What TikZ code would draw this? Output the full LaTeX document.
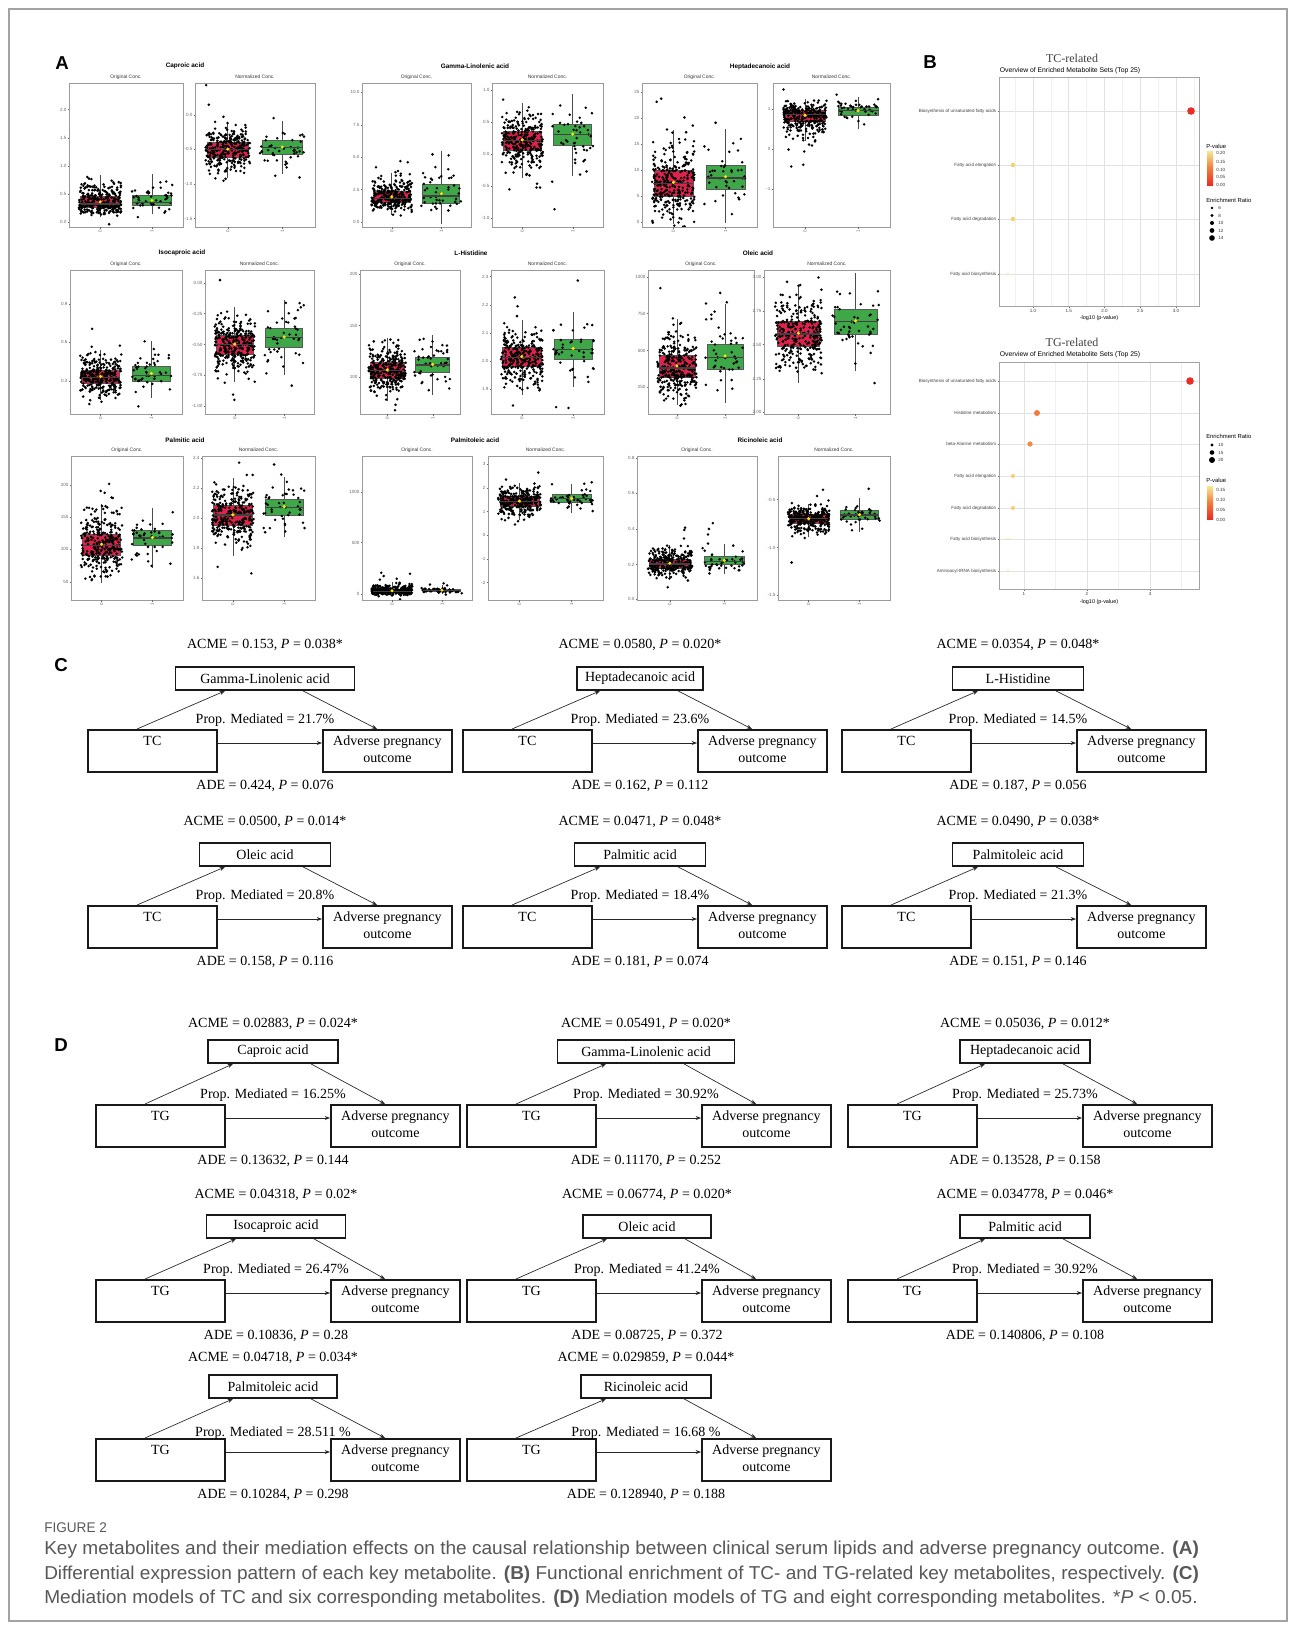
\documentclass[tikz,border=0pt]{standalone}
\usepackage{fontspec}
\setmainfont{Liberation Serif}
\setsansfont{Liberation Sans}
\usepackage{graphicx}
\usetikzlibrary{calc,arrows.meta}

\definecolor{boxred}{RGB}{222,35,78}
\definecolor{boxgreen}{RGB}{62,168,72}
\definecolor{framegray}{RGB}{140,140,140}
\definecolor{pfgray}{RGB}{155,155,155}
\definecolor{tickgray}{RGB}{105,105,105}
\definecolor{capgray}{RGB}{88,88,88}
\definecolor{ptred}{RGB}{236,45,38}
\definecolor{ptorange}{RGB}{240,125,60}
\definecolor{ptyellow}{RGB}{246,208,105}
\definecolor{ptpale}{RGB}{248,232,150}
\definecolor{gridc}{RGB}{226,226,226}
\definecolor{gridm}{RGB}{240,240,240}
\definecolor{meanyellow}{RGB}{255,230,0}

\tikzset{
 ticklab/.style={font=\sffamily\fontsize{3.4}{3.4}\selectfont, text=tickgray, inner sep=0.4pt},
 ptitle/.style={font=\sffamily\bfseries\fontsize{4.8}{5}\selectfont, inner sep=0},
 psub/.style={font=\sffamily\fontsize{3.7}{4}\selectfont, text=black!80, inner sep=0},
 pframe/.style={draw=pfgray, line width=0.65pt},
 whisk/.style={draw=black!70, line width=0.5pt},
 bxline/.style={draw=black!65, line width=0.5pt},
 medln/.style={draw=black!75, line width=0.9pt},
 panlab/.style={font=\sffamily\bfseries\fontsize{14}{14}\selectfont, inner sep=0},
 mbox/.style={draw=black!90, line width=1.4pt, inner sep=0, font=\fontsize{10.5}{12.75}\selectfont, align=center},
 mtxt/.style={font=\fontsize{10.5}{12}\selectfont, inner sep=0},
 arr/.style={-{Stealth[length=4pt,width=3pt]}, line width=0.5pt, draw=black!85},
 btitle/.style={font=\fontsize{9}{10}\selectfont, text=black!75, inner sep=0},
 bsub/.style={font=\sffamily\fontsize{5.1}{5.5}\selectfont, inner sep=0},
 blab/.style={font=\sffamily\fontsize{3.4}{3.6}\selectfont, text=black!75, inner sep=0.4pt},
 baxis/.style={font=\sffamily\fontsize{4.1}{4.3}\selectfont, inner sep=0},
 leg/.style={font=\sffamily\fontsize{4.4}{4.6}\selectfont, inner sep=0, anchor=west},
 legv/.style={font=\sffamily\fontsize{3.4}{3.6}\selectfont, inner sep=0, anchor=west, text=black!80},
 gmaj/.style={draw=gridc, line width=0.45pt},
 gmin/.style={draw=gridm, line width=0.3pt},
 bframe/.style={draw=framegray!80, line width=0.6pt},
}

\def\parsegrp#1/#2/#3\relax{\def\gc{#1}\def\gs{#2}\def\gk{#3}}

% #1 rel x centre, #2 c/s/k, #3 fill, #4 number of dots
\newcommand\grp[4]{%
 \parsegrp#2\relax
 \pgfmathsetmacro\xc{\bxX+#1*\bxW}%
 \pgfmathsetmacro\bw{0.34*\bxW}%
 \pgfmathsetmacro\jw{0.37*\bxW}%
 \pgfmathsetmacro\ylo{\bxB-(\gc-0.67*\gs)*\bxH}%
 \pgfmathsetmacro\yhi{\bxB-(\gc+0.67*\gs*\gk)*\bxH}%
 \pgfmathsetmacro\ymed{\bxB-\gc*\bxH}%
 \pgfmathsetmacro\wlo{\bxB-max(0.02,\gc-2.6*\gs)*\bxH}%
 \pgfmathsetmacro\whi{\bxB-min(0.98,\gc+2.6*\gs*\gk)*\bxH}%
 \pgfmathsetmacro\ymean{\bxB-(\gc+0.3*\gs*(\gk-1)+0.05*\gs)*\bxH}%
 \draw[whisk] (\xc,\wlo) -- (\xc,\whi);
 \filldraw[fill=#3,bxline] ({\xc-\bw/2},\ylo) rectangle ({\xc+\bw/2},\yhi);
 \foreach \i in {1,...,#4}{%
   \pgfmathsetmacro\zz{rand+rand+rand}%
   \pgfmathsetmacro\zz{\zz*(\zz>0 ? \gk : 1)*(rnd>0.93 ? 2.4 : 1)}%
   \pgfmathsetmacro\bpy{\bxB-(\gc+\gs*\zz)*\bxH}%
   \pgfmathsetmacro\bpx{\xc+0.5*\jw*rand}%
   \fill (\bpx,\bpy) circle (1.4);
 }
 \draw[medln] ({\xc-\bw/2},\ymed) -- ({\xc+\bw/2},\ymed);
 \fill[meanyellow] (\xc,\ymean) circle (1.7);
}

% #1 x, #2 y top, #3 w, #4 h, #5 g0, #6 g1, #7 ticks, #8 subtitle, #9 id
\newcommand\bxp[9]{%
 \pgfmathsetmacro\bxX{#1}\pgfmathsetmacro\bxY{#2}%
 \pgfmathsetmacro\bxW{#3}\pgfmathsetmacro\bxH{#4}%
 \pgfmathsetmacro\bxB{\bxY+\bxH}%
 \foreach \lab/\rel [count=\ci] in {#7}{%
   \pgfmathsetmacro\ty{\bxB-\rel*\bxH}%
   \draw[tickgray,line width=0.3pt] ({\bxX-1.5},\ty) -- (\bxX,\ty);
   \node[ticklab,anchor=east] (#9t\ci) at ({\bxX-1.8},\ty) {\lab};
 }
 \node[psub] (#9s) at ({\bxX+\bxW/2},{\bxY-6}) {#8};
 \begin{scope}
  \clip (\bxX,\bxY) rectangle ({\bxX+\bxW},\bxB);
  \grp{0.273}{#5}{boxred}{300}
  \grp{0.727}{#6}{boxgreen}{45}
 \end{scope}
 \draw[pframe] (\bxX,\bxY) rectangle ({\bxX+\bxW},\bxB);
 \foreach \gx/\gl [count=\ci] in {0.273/0,0.727/1}{%
   \draw[tickgray,line width=0.3pt] ({\bxX+\gx*\bxW},\bxB) -- ({\bxX+\gx*\bxW},{\bxB+1.5});
   \node[ticklab,rotate=90,anchor=east] (#9x\ci) at ({\bxX+\gx*\bxW},{\bxB+2}) {\gl};
 }
}

\def\propdy{9}
% #1 id, #2 exposure box left, #3 ACME y, #4 mediator top, #5 box top, #6 mediator centre, #7 mediator width, #8 mediator, #9 exposure
\newcommand\medrow[9]{%
 \node[mbox, minimum width={#7*0.75pt}, minimum height=17.25pt, anchor=north] (#1m) at (#6,#4) {#8};
 \node[mbox, minimum width=96.75pt, minimum height=31.5pt, anchor=north west] (#1x) at (#2,#5) {\strut #9\\\strut};
 \node[mbox, minimum width=96.75pt, minimum height=31.5pt, anchor=north west] (#1y) at ({#2+235},#5) {\strut Adverse pregnancy\\\strut outcome};
 \node[mtxt] (#1a) at (#6,#3) {\acmetxt};
 \node[mtxt] (#1p) at (#6,{#5-\propdy}) {\proptxt};
 \node[mtxt] (#1d) at (#6,{#5+57}) {\adetxt};
 \draw[arr] ($(#1x.north west)+(50,0)$) -- ($(#1m.south)+(-40,0)$);
 \draw[arr] ($(#1m.south)+(38,0)$) -- ($(#1y.north west)+(55,0)$);
 \draw[arr] ($(#1x.north east)+(0,14)$) -- ($(#1y.north west)+(0,14)$);
}

\newcommand\fitw[2]{\setbox0=\hbox{#2}\pgfmathsetmacro\fitsc{#1/(\the\wd0)}\scalebox{\fitsc}[1]{\box0}}

\begin{document}
\begin{tikzpicture}[x=0.75pt,y=-0.75pt]
\useasboundingbox (0,0) rectangle (1295,1629);
\fill[white] (0,0) rectangle (1295,1629);
\pgfmathsetseed{4242}

% ================= Panel A =================
\node[panlab] (labA) at (62,63) {A};

\node[ptitle] (ta1) at (185,66) {Caproic acid};
\bxp{69}{83}{114}{144}{0.16/0.035/2.2}{0.17/0.03/2.5}{0.0/0.032,0.5/0.228,1.0/0.424,1.5/0.62,2.0/0.816}{Original Conc.}{pa}
\bxp{195}{83}{120}{144}{0.537/0.075/1}{0.552/0.07/1}{0.0/0.776,-0.5/0.539,-1.0/0.30,-1.5/0.058}{Normalized Conc.}{pb}
\node[ptitle] (ta2) at (475,66) {Gamma-Linolenic acid};
\bxp{362}{83}{109}{144}{0.2/0.045/1.5}{0.215/0.075/1.6}{0.0/0.036,2.5/0.26,5.0/0.486,7.5/0.71,10.0/0.935}{Original Conc.}{pc}
\bxp{492}{83}{111}{144}{0.6/0.1/1}{0.64/0.11/1}{-1.0/0.063,-0.5/0.285,0.0/0.507,0.5/0.73,1.0/0.95}{Normalized Conc.}{pd}
\node[ptitle] (ta3) at (760,67) {Heptadecanoic acid};
\bxp{642}{83}{115}{144}{0.3/0.13/1.1}{0.34/0.12/1.1}{0/0.036,5/0.215,10/0.394,15/0.575,20/0.756,25/0.937}{Original Conc.}{pe}
\bxp{773}{83}{117}{144}{0.78/0.07/0.6}{0.81/0.05/0.7}{-1/0.265,0/0.543,1/0.819}{Normalized Conc.}{pf}

\node[ptitle] (ta4) at (182,253) {Isocaproic acid};
\bxp{70}{270}{112}{144}{0.255/0.06/1.2}{0.27/0.06/1.5}{0.3/0.228,0.6/0.499,0.9/0.763}{Original Conc.}{pg}
\bxp{205}{270}{109}{144}{0.48/0.1/1}{0.53/0.1/1}{-1.00/0.057,-0.75/0.269,-0.50/0.483,-0.25/0.697,0.00/0.908}{Normalized Conc.}{ph}
\node[ptitle] (ta5) at (471,253) {L-Histidine};
\bxp{360}{270}{100}{144}{0.3/0.08/1.1}{0.34/0.08/1}{100/0.257,150/0.614,200/0.97}{Original Conc.}{pi}
\bxp{491}{270}{113}{144}{0.395/0.1/1}{0.45/0.1/1}{1.9/0.172,2.0/0.368,2.1/0.563,2.2/0.759,2.3/0.955}{Normalized Conc.}{pj}
\node[ptitle] (ta6) at (758,253) {Oleic acid};
\bxp{648}{270}{106}{144}{0.32/0.1/1.3}{0.39/0.12/1.2}{250/0.186,500/0.441,750/0.697,1000/0.949}{Original Conc.}{pk}
\bxp{764}{270}{126}{144}{0.555/0.13/1}{0.64/0.13/1}{2.00/0.016,2.25/0.241,2.50/0.483,2.75/0.713,3.00/0.949}{Normalized Conc.}{pl}

\node[ptitle] (ta7) at (185,440) {Palmitic acid};
\bxp{71}{456}{112}{144}{0.38/0.1/1.1}{0.43/0.08/1}{50/0.127,100/0.352,150/0.574,200/0.799}{Original Conc.}{pm}
\bxp{202}{456}{113}{144}{0.59/0.11/0.9}{0.645/0.08/1}{1.6/0.153,1.8/0.361,2.0/0.569,2.2/0.775,2.4/0.984}{Normalized Conc.}{pn}
\node[ptitle] (ta8) at (475,440) {Palmitoleic acid};
\bxp{362}{456}{110}{144}{0.06/0.012/2}{0.065/0.008/2}{0/0.042,500/0.398,1000/0.752}{Original Conc.}{po}
\bxp{488}{456}{115}{144}{0.685/0.05/1}{0.705/0.04/1}{-2/0.121,-1/0.286,0/0.449,1/0.614,2/0.779,3/0.942}{Normalized Conc.}{pp}
\node[ptitle] (ta9) at (760,440) {Ricinoleic acid};
\bxp{637}{456}{120}{144}{0.25/0.04/1.3}{0.27/0.035/1.3}{0.0/0.005,0.2/0.247,0.4/0.493,0.6/0.742,0.8/0.988}{Original Conc.}{pq}
\bxp{778}{456}{112}{144}{0.565/0.05/0.8}{0.59/0.045/1}{-1.5/0.033,-1.0/0.365,-0.5/0.698}{Normalized Conc.}{pr}

% ================= Panel B =================
\node[panlab] (labB) at (930,62) {B};
% --- TC-related
\node[btitle] (tct) at (1072,58) {TC-related};
\node[bsub] (tcs) at (1070,71) {Overview of Enriched Metabolite Sets (Top 25)};
\foreach \v in {0.75,1.25,1.75,2.25,2.75,3.25} \draw[gmin] ({1033+(\v-1)*71.5},77) -- ({1033+(\v-1)*71.5},306);
\foreach \v/\l [count=\ci] in {1.0/1.0,1.5/1.5,2.0/2.0,2.5/2.5,3.0/3.0}{
  \draw[gmaj] ({1033+(\v-1)*71.5},77) -- ({1033+(\v-1)*71.5},306);
  \draw[tickgray,line width=0.3pt] ({1033+(\v-1)*71.5},306) -- ({1033+(\v-1)*71.5},307.5);
  \node[blab,anchor=north] (tcx\ci) at ({1033+(\v-1)*71.5},308.5) {\l};
}
\foreach \yy/\l [count=\ci] in {111/Biosynthesis of unsaturated fatty acids,165/Fatty acid elongation,219/Fatty acid degradation,274/Fatty acid biosynthesis}{
  \draw[gmaj] (999,\yy) -- (1199,\yy);
  \draw[tickgray,line width=0.3pt] (997.5,\yy) -- (999,\yy);
  \node[blab,anchor=east] (tcr\ci) at (997,\yy) {\l};
}
\draw[bframe] (999,77) rectangle (1199,306);
\fill[ptred] (1191,111) circle (3.8);
\fill[ptyellow] (1013,165) circle (2.2);
\fill[ptyellow] (1013,219) circle (2.2);
\fill[ptpale] (1008,274) circle (1.2);
\node[baxis] (tcax) at (1099,318) {-log10 (p-value)};
\node[leg] (tcl1) at (1206,146) {P-value};
\shade[bottom color=ptred, top color=ptpale, middle color=ptorange] (1207,151) rectangle (1213,185);
\foreach \yy/\l [count=\ci] in {153/0.20,161.5/0.15,169.5/0.10,177/0.05,185/0.00}
  \node[legv] (tcv\ci) at (1216,\yy) {\l};
\node[leg] (tcl2) at (1206,200) {Enrichment Ratio};
\foreach \yy/\r/\l [count=\ci] in {208/1.4/6,215.5/1.7/8,223/2.0/10,230.5/2.4/12,238/2.8/14}{
  \fill (1212,\yy) circle (\r);
  \node[legv] (tce\ci) at (1218,\yy) {\l};
}
% --- TG-related
\node[btitle] (tgt) at (1072,342) {TG-related};
\node[bsub] (tgs) at (1070,355) {Overview of Enriched Metabolite Sets (Top 25)};
\foreach \v in {1.5,2.5,3.5} \draw[gmin] ({1024+(\v-1)*63},362) -- ({1024+(\v-1)*63},589);
\foreach \v [count=\ci] in {1,2,3}{
  \draw[gmaj] ({1024+(\v-1)*63},362) -- ({1024+(\v-1)*63},589);
  \draw[tickgray,line width=0.3pt] ({1024+(\v-1)*63},589) -- ({1024+(\v-1)*63},590.5);
  \node[blab,anchor=north] (tgx\ci) at ({1024+(\v-1)*63},591.5) {\v};
}
\foreach \yy/\l [count=\ci] in {381/Biosynthesis of unsaturated fatty acids,413/Histidine metabolism,444/beta-Alanine metabolism,476/Fatty acid elongation,508/Fatty acid degradation,539/Fatty acid biosynthesis,571/Aminoacyl-tRNA biosynthesis}{
  \draw[gmaj] (999,\yy) -- (1199,\yy);
  \draw[tickgray,line width=0.3pt] (997.5,\yy) -- (999,\yy);
  \node[blab,anchor=east] (tgr\ci) at (997,\yy) {\l};
}
\draw[bframe] (999,362) rectangle (1199,589);
\fill[ptred] (1190,381) circle (3.8);
\fill[ptorange] (1037,413) circle (3.0);
\fill[ptorange!85!ptyellow] (1030,444) circle (2.6);
\fill[ptyellow] (1013,476) circle (2.0);
\fill[ptyellow] (1013,508) circle (2.0);
\fill[ptpale] (1008,539) circle (1.3);
\fill[ptpale] (1008,571) circle (1.1);
\node[baxis] (tgax) at (1099,602) {-log10 (p-value)};
\node[leg] (tgl1) at (1206,436) {Enrichment Ratio};
\foreach \yy/\r/\l [count=\ci] in {445/1.6/10,452.5/2.3/15,460/3.0/20}{
  \fill (1212,\yy) circle (\r);
  \node[legv] (tge\ci) at (1218,\yy) {\l};
}
\node[leg] (tgl2) at (1206,480) {P-value};
\shade[bottom color=ptred, top color=ptpale, middle color=ptorange] (1207,486) rectangle (1213,519);
\foreach \yy/\l [count=\ci] in {490/0.15,500/0.10,510/0.05,520/0.00}
  \node[legv] (tgv\ci) at (1216,\yy) {\l};

% ================= Panel C =================
\node[panlab] (labC) at (61,665) {C};
\def\acmetxt{ACME = 0.153, \textit{P} = 0.038*}\def\proptxt{Prop. Mediated = 21.7\%}\def\adetxt{ADE = 0.424, \textit{P} = 0.076}
\medrow{ca}{87}{645}{666}{729}{265}{179}{Gamma-Linolenic acid}{TC}
\def\acmetxt{ACME = 0.0580, \textit{P} = 0.020*}\def\proptxt{Prop. Mediated = 23.6\%}\def\adetxt{ADE = 0.162, \textit{P} = 0.112}
\medrow{cb}{462}{645}{666}{729}{640}{126}{Heptadecanoic acid}{TC}
\def\acmetxt{ACME = 0.0354, \textit{P} = 0.048*}\def\proptxt{Prop. Mediated = 14.5\%}\def\adetxt{ADE = 0.187, \textit{P} = 0.056}
\medrow{cc}{841}{645}{666}{729}{1018}{131}{L-Histidine}{TC}
\def\acmetxt{ACME = 0.0500, \textit{P} = 0.014*}\def\proptxt{Prop. Mediated = 20.8\%}\def\adetxt{ADE = 0.158, \textit{P} = 0.116}
\medrow{cd}{87}{822}{842}{905}{265}{131}{Oleic acid}{TC}
\def\acmetxt{ACME = 0.0471, \textit{P} = 0.048*}\def\proptxt{Prop. Mediated = 18.4\%}\def\adetxt{ADE = 0.181, \textit{P} = 0.074}
\medrow{ce}{462}{822}{842}{905}{640}{131}{Palmitic acid}{TC}
\def\acmetxt{ACME = 0.0490, \textit{P} = 0.038*}\def\proptxt{Prop. Mediated = 21.3\%}\def\adetxt{ADE = 0.151, \textit{P} = 0.146}
\medrow{cf}{841}{822}{842}{905}{1018}{131}{Palmitoleic acid}{TC}

% ================= Panel D =================
\node[panlab] (labD) at (61,1045) {D};
\def\acmetxt{ACME = 0.02883, \textit{P} = 0.024*}\def\proptxt{Prop. Mediated = 16.25\%}\def\adetxt{ADE = 0.13632, \textit{P} = 0.144}
\medrow{da}{95}{1024}{1039}{1104}{273}{130}{Caproic acid}{TG}
\def\acmetxt{ACME = 0.05491, \textit{P} = 0.020*}\def\proptxt{Prop. Mediated = 30.92\%}\def\adetxt{ADE = 0.11170, \textit{P} = 0.252}
\medrow{db}{466}{1024}{1039}{1104}{646}{177}{Gamma-Linolenic acid}{TG}
\def\acmetxt{ACME = 0.05036, \textit{P} = 0.012*}\def\proptxt{Prop. Mediated = 25.73\%}\def\adetxt{ADE = 0.13528, \textit{P} = 0.158}
\medrow{dc}{847}{1024}{1039}{1104}{1025}{130}{Heptadecanoic acid}{TG}
\def\acmetxt{ACME = 0.04318, \textit{P} = 0.02*}\def\proptxt{Prop. Mediated = 26.47\%}\def\adetxt{ADE = 0.10836, \textit{P} = 0.28}
\medrow{dd}{95}{1195}{1214}{1279}{276}{139}{Isocaproic acid}{TG}
\def\acmetxt{ACME = 0.06774, \textit{P} = 0.020*}\def\proptxt{Prop. Mediated = 41.24\%}\def\adetxt{ADE = 0.08725, \textit{P} = 0.372}
\medrow{de}{466}{1195}{1214}{1279}{647}{128}{Oleic acid}{TG}
\def\acmetxt{ACME = 0.034778, \textit{P} = 0.046*}\def\proptxt{Prop. Mediated = 30.92\%}\def\adetxt{ADE = 0.140806, \textit{P} = 0.108}
\medrow{df}{847}{1195}{1214}{1279}{1025}{130}{Palmitic acid}{TG}
\def\propdy{5}
\def\acmetxt{ACME = 0.04718, \textit{P} = 0.034*}\def\proptxt{Prop. Mediated = 28.511 \%}\def\adetxt{ADE = 0.10284, \textit{P} = 0.298}
\medrow{dg}{95}{1358}{1374}{1438}{273}{128}{Palmitoleic acid}{TG}
\def\acmetxt{ACME = 0.029859, \textit{P} = 0.044*}\def\proptxt{Prop. Mediated = 16.68 \%}\def\adetxt{ADE = 0.128940, \textit{P} = 0.188}
\medrow{dh}{466}{1358}{1374}{1438}{646}{130}{Ricinoleic acid}{TG}

% ================= Caption =================
\node[anchor=west, inner sep=0, text=capgray, font=\sffamily\fontsize{10.5}{11}\selectfont] (figno) at (44,1528) {\fitw{47}{FIGURE 2}};
\node[anchor=west, inner sep=0, text=capgray, font=\sffamily\fontsize{14}{15}\selectfont] (cap1) at (44,1550) {\fitw{866}{Key metabolites and their mediation effects on the causal relationship between clinical serum lipids and adverse pregnancy outcome. \textbf{(A)}}};
\node[anchor=west, inner sep=0, text=capgray, font=\sffamily\fontsize{14}{15}\selectfont] (cap2) at (44,1574.5) {\fitw{866}{Differential expression pattern of each key metabolite. \textbf{(B)} Functional enrichment of TC- and TG-related key metabolites, respectively. \textbf{(C)}}};
\node[anchor=west, inner sep=0, text=capgray, font=\sffamily\fontsize{14}{15}\selectfont] (cap3) at (44,1599) {\fitw{865}{Mediation models of TC and six corresponding metabolites. \textbf{(D)} Mediation models of TG and eight corresponding metabolites. *\textit{P} < 0.05.}};

% outer frame
\draw[framegray!80, line width=0.8pt] (9,9) rectangle (1287,1621);
\end{tikzpicture}
\end{document}
